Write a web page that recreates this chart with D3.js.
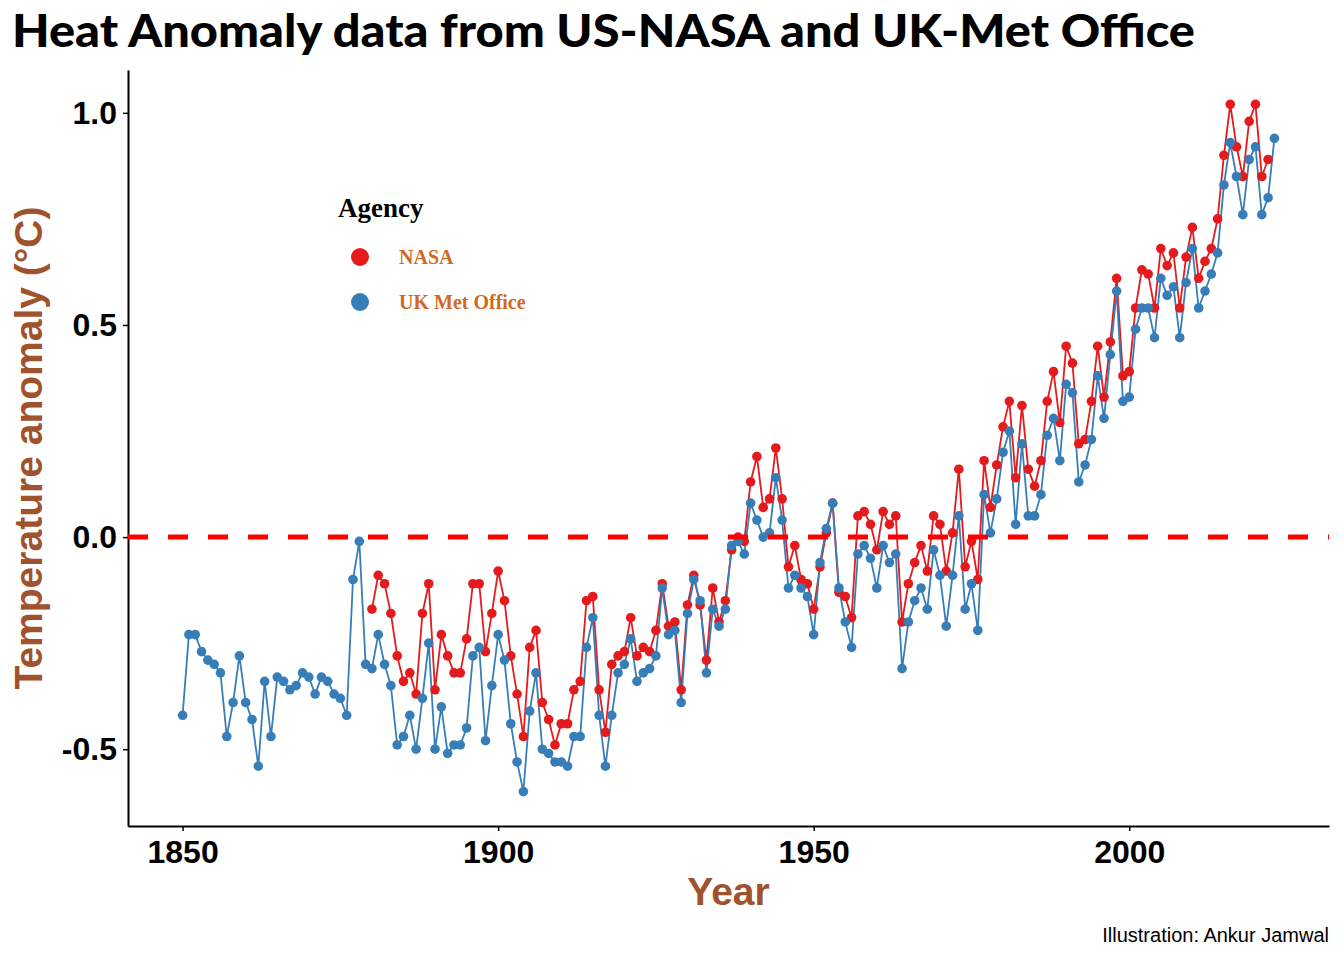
<!DOCTYPE html>
<html>
<head>
<meta charset="utf-8">
<script src="https://cdn.jsdelivr.net/npm/d3@7"></script>
<style>
  body { margin: 0; background: #fff; }
  svg { display: block; }
</style>
</head>
<body>
<div id="chart"></div>
<script>
// Annual temperature anomaly (°C)
const nasaStart = 1880;
const nasaValues = [
  -0.17, -0.09, -0.11, -0.18, -0.28, -0.34, -0.32, -0.37, -0.18, -0.11,
  -0.36, -0.23, -0.28, -0.32, -0.32, -0.24, -0.11, -0.11, -0.27, -0.18,
  -0.08, -0.15, -0.28, -0.37, -0.47, -0.26, -0.22, -0.39, -0.43, -0.49,
  -0.44, -0.44, -0.36, -0.34, -0.15, -0.14, -0.36, -0.46, -0.30, -0.28,
  -0.27, -0.19, -0.28, -0.26, -0.27, -0.22, -0.11, -0.21, -0.20, -0.36,
  -0.16, -0.09, -0.16, -0.29, -0.12, -0.20, -0.15, -0.03, -0.00, -0.01,
   0.13,  0.19,  0.07,  0.09,  0.21,  0.09, -0.07, -0.02, -0.10, -0.11,
  -0.17, -0.07,  0.01,  0.08, -0.13, -0.14, -0.19,  0.05,  0.06,  0.03,
  -0.03,  0.06,  0.03,  0.05, -0.20, -0.11, -0.06, -0.02, -0.08,  0.05,
   0.03, -0.08,  0.01,  0.16, -0.07, -0.01, -0.10,  0.18,  0.07,  0.17,
   0.26,  0.32,  0.14,  0.31,  0.16,  0.12,  0.18,  0.32,  0.39,  0.27,
   0.45,  0.41,  0.22,  0.23,  0.32,  0.45,  0.33,  0.46,  0.61,  0.38,
   0.39,  0.54,  0.63,  0.62,  0.54,  0.68,  0.64,  0.67,  0.54,  0.66,
   0.73,  0.61,  0.65,  0.68,  0.75,  0.90,  1.02,  0.92,  0.85,  0.98,
   1.02,  0.85,  0.89
];

const ukStart = 1850;
const ukValues = [
  -0.42, -0.23, -0.23, -0.27, -0.29, -0.30, -0.32, -0.47, -0.39, -0.28,
  -0.39, -0.43, -0.54, -0.34, -0.47, -0.33, -0.34, -0.36, -0.35, -0.32,
  -0.33, -0.37, -0.33, -0.34, -0.37, -0.38, -0.42, -0.10, -0.01, -0.30,
  -0.31, -0.23, -0.30, -0.35, -0.49, -0.47, -0.42, -0.50, -0.38, -0.25,
  -0.50, -0.40, -0.51, -0.49, -0.49, -0.45, -0.28, -0.26, -0.48, -0.35,
  -0.23, -0.29, -0.44, -0.53, -0.60, -0.41, -0.32, -0.50, -0.51, -0.53,
  -0.53, -0.54, -0.47, -0.47, -0.26, -0.19, -0.42, -0.54, -0.42, -0.32,
  -0.30, -0.24, -0.34, -0.32, -0.31, -0.28, -0.12, -0.23, -0.22, -0.39,
  -0.18, -0.10, -0.15, -0.32, -0.17, -0.21, -0.17, -0.02, -0.01, -0.04,
   0.08,  0.04,  0.00,  0.01,  0.14,  0.04, -0.12, -0.09, -0.12, -0.14,
  -0.23, -0.06,  0.02,  0.08, -0.12, -0.20, -0.26, -0.04, -0.02, -0.05,
  -0.12, -0.02, -0.06, -0.04, -0.31, -0.20, -0.15, -0.12, -0.17, -0.03,
  -0.09, -0.21, -0.09,  0.05, -0.17, -0.11, -0.22,  0.10,  0.01,  0.09,
   0.20,  0.25,  0.03,  0.22,  0.05,  0.05,  0.10,  0.24,  0.28,  0.18,
   0.36,  0.34,  0.13,  0.17,  0.23,  0.38,  0.28,  0.43,  0.58,  0.32,
   0.33,  0.49,  0.54,  0.54,  0.47,  0.61,  0.57,  0.59,  0.47,  0.60,
   0.68,  0.54,  0.58,  0.62,  0.67,  0.83,  0.93,  0.85,  0.76,  0.89,
   0.92,  0.76,  0.80,  0.94
];

const agencies = ["NASA", "UK Met Office"];
const agencyColors = ["#E41A1C", "#377EB8"];
const xTicks = [1850, 1900, 1950, 2000];
const yTicks = [-0.5, 0.0, 0.5, 1.0];

// Chart geometry
const W = 1344, H = 960;
const margin = { top: 70, right: 15, bottom: 134, left: 128 };
const width = W - margin.left - margin.right,
    height = H - margin.top - margin.bottom;

// Build one series per agency
const series = [
  { agency: agencies[0], color: agencyColors[0],
    values: nasaValues.map((v, i) => ({ year: nasaStart + i, value: v })) },
  { agency: agencies[1], color: agencyColors[1],
    values: ukValues.map((v, i) => ({ year: ukStart + i, value: v })) }
];
const all = series.flatMap(s => s.values);

// ggplot-style 5% expansion
function expand(ext) {
  const pad = (ext[1] - ext[0]) * 0.05;
  return [ext[0] - pad, ext[1] + pad];
}

const x = d3.scaleLinear()
    .domain(expand(d3.extent(all, d => d.year)))
    .range([0, width]);
const y = d3.scaleLinear()
    .domain(expand(d3.extent(all, d => d.value)))
    .range([height, 0]);

const svg = d3.select("#chart").append("svg")
    .attr("width", W)
    .attr("height", H);

// Title
svg.append("text")
    .attr("x", 12)
    .attr("y", 47)
    .attr("textLength", 1183)
    .attr("lengthAdjust", "spacingAndGlyphs")
    .style("font-family", "Lato, 'Open Sans', sans-serif")
    .style("font-weight", 900)
    .style("font-size", "46px")
    .style("fill", "#000")
    .text("Heat Anomaly data from US-NASA and UK-Met Office");

const g = svg.append("g")
    .attr("transform", `translate(${margin.left},${margin.top})`);

// Axes
const xAxis = g.append("g")
    .attr("transform", `translate(0,${height})`)
    .call(d3.axisBottom(x).tickValues(xTicks).tickFormat(d3.format("d"))
        .tickSize(5).tickSizeOuter(0).tickPadding(9));
const yAxis = g.append("g")
    .call(d3.axisLeft(y).tickValues(yTicks).tickFormat(d => d.toFixed(1))
        .tickSize(5).tickSizeOuter(0).tickPadding(6));

[xAxis, yAxis].forEach(ax => {
  ax.select(".domain").attr("stroke", "#000").attr("stroke-width", 2);
  ax.selectAll(".tick line").attr("stroke", "#000").attr("stroke-width", 1.5);
  ax.selectAll(".tick text")
      .style("font-family", "'Liberation Sans', Arial, sans-serif")
      .style("font-weight", "bold")
      .style("font-size", "32px")
      .style("fill", "#000");
});

// Axis titles
svg.append("text")
    .attr("x", margin.left + width / 2)
    .attr("y", 905)
    .attr("text-anchor", "middle")
    .style("font-family", "'Liberation Sans', Arial, sans-serif")
    .style("font-weight", "bold")
    .style("font-size", "39px")
    .style("fill", "#A0522D")
    .text("Year");

svg.append("text")
    .attr("transform", `translate(42,${margin.top + height / 2}) rotate(-90)`)
    .attr("text-anchor", "middle")
    .style("font-family", "'Liberation Sans', Arial, sans-serif")
    .style("font-weight", "bold")
    .style("font-size", "39px")
    .style("fill", "#A0522D")
    .text("Temperature anomaly (°C)");

// Lines
const line = d3.line()
    .x(d => x(d.year))
    .y(d => y(d.value));

g.selectAll(".series-line")
    .data(series)
    .join("path")
    .attr("class", "series-line")
    .attr("d", d => line(d.values))
    .attr("fill", "none")
    .attr("stroke", d => d.color)
    .attr("stroke-width", 1.8);

// Points
series.forEach(s => {
  g.append("g")
      .selectAll("circle")
      .data(s.values)
      .join("circle")
      .attr("cx", d => x(d.year))
      .attr("cy", d => y(d.value))
      .attr("r", 4.8)
      .attr("fill", s.color);
});

// Zero reference line
g.append("line")
    .attr("x1", 0)
    .attr("x2", width)
    .attr("y1", y(0))
    .attr("y2", y(0))
    .attr("stroke", "#FF0000")
    .attr("stroke-width", 5)
    .attr("stroke-dasharray", "20,20");

// Legend
const legend = svg.append("g")
    .attr("transform", "translate(338,217)");
legend.append("text")
    .style("font-family", "'Liberation Serif', 'Times New Roman', serif")
    .style("font-weight", "bold")
    .style("font-size", "27px")
    .style("fill", "#000")
    .text("Agency");

const item = legend.selectAll(".item")
    .data(series)
    .join("g")
    .attr("class", "item")
    .attr("transform", (d, i) => `translate(0,${40 + i * 45})`);
item.append("circle")
    .attr("cx", 22)
    .attr("cy", 0)
    .attr("r", 9)
    .attr("fill", d => d.color);
item.append("text")
    .attr("x", 61)
    .attr("y", 7)
    .style("font-family", "'Liberation Serif', 'Times New Roman', serif")
    .style("font-weight", "bold")
    .style("font-size", "20px")
    .style("fill", "#D2691E")
    .text(d => d.agency);

// Caption
svg.append("text")
    .attr("x", 1329)
    .attr("y", 942)
    .attr("text-anchor", "end")
    .style("font-family", "'Liberation Sans', Arial, sans-serif")
    .style("font-size", "20px")
    .style("fill", "#000")
    .text("Illustration: Ankur Jamwal");
</script>
</body>
</html>
